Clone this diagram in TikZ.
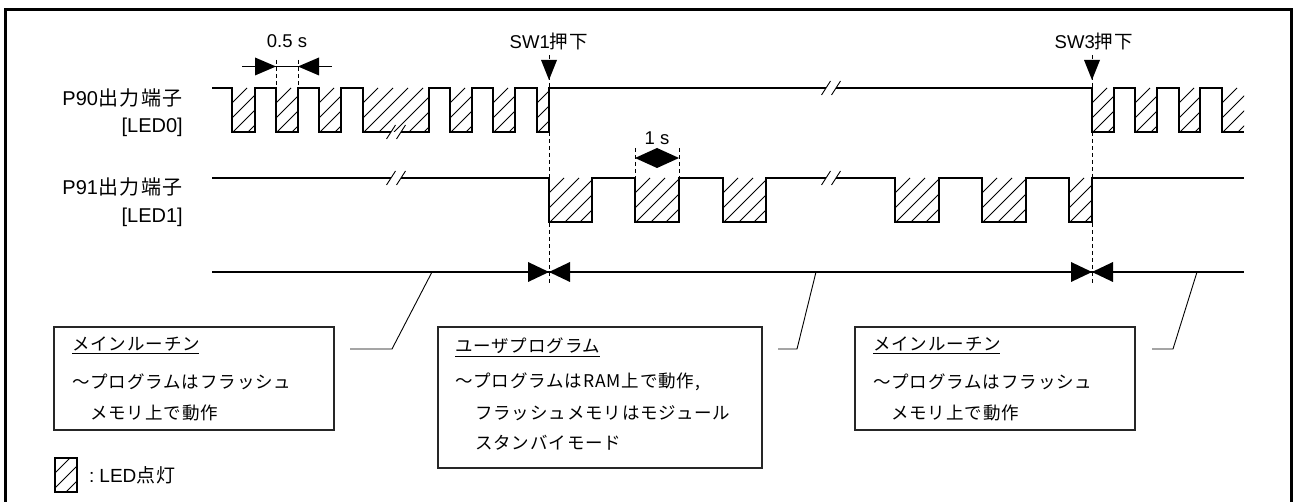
\documentclass[tikz,border=0pt]{standalone}
\usepackage{fontspec}
\setmainfont{Liberation Sans}
\newfontfamily\jp[LetterSpace=5]{Noto Sans CJK JP}
\newfontfamily\jpl[LetterSpace=8]{Noto Sans CJK JP}
\tikzset{
  wave/.style={line width=2.4pt, line join=miter},
  hatchline/.style={line width=0.8pt},
  thinline/.style={line width=0.9pt},
  dashv/.style={line width=0.8pt, dash pattern=on 4pt off 3pt},
  boxframe/.style={line width=1.1pt, draw=black!85},
  lbl/.style={font=\fontsize{20}{22}\selectfont, inner sep=0pt, anchor=east},
  toplbl/.style={font=\fontsize{18.5}{20}\selectfont, inner sep=0pt},
  boxtxt/.style={font=\jp\fontsize{17.5}{19}\selectfont, inner sep=0pt, anchor=west},
  brk/.style={line width=0.9pt},
  tri/.style={fill=black, draw=none}
}
\newcommand\hatchbox[4]{%
  \begin{scope}
    \clip (#1,#3) rectangle (#2,#4);
    \pgfmathsetmacro\hA{#1-(#4-#3)}
    \pgfmathsetmacro\hB{\hA+15}
    \foreach \k in {\hA,\hB,...,#2} \draw[hatchline] (\k,#4) -- ++(#4-#3,#3-#4);
  \end{scope}}
\newcommand\brkmark[2]{% center x, y
  \draw[brk] (#1-9.5,#2+7) -- (#1-0.5,#2-7);
  \draw[brk] (#1+0.5,#2+7) -- (#1+9.5,#2-7);}
\begin{document}
\begin{tikzpicture}[x=1pt,y=-1pt]
\useasboundingbox (0,0) rectangle (1298,502);
% frame
\draw[line width=3pt] (5,510) -- (5,10) -- (1291,10) -- (1291,510);

% signal labels
\node[lbl] (p90) at (183,98) {P90{\jpl 出力端子}};
\node[lbl] (led0) at (183,127) {[LED0]};
\node[lbl] (p91) at (183,187) {P91{\jpl 出力端子}};
\node[lbl] (led1) at (183,217) {[LED1]};

% hatching P90
\foreach \a/\b in {232/255,276/298,319/341,363/429,450/472,493/515,537/549,1092/1114,1135/1157,1179/1200,1222/1244}
  {\hatchbox{\a}{\b}{88}{132}}
% hatching P91
\foreach \a/\b in {549/592,635/679,723/766,895/939,982/1026,1069/1092}
  {\hatchbox{\a}{\b}{178}{222}}

% dashed markers
\draw[dashv] (549,55) -- (549,285);
\draw[dashv] (1092,55) -- (1092,285);
\draw[dashv] (276,60) -- (276,90);
\draw[dashv] (298,60) -- (298,90);
\draw[dashv] (635,148) -- (635,178);
\draw[dashv] (679,148) -- (679,178);

% P90 waveform
\draw[wave] (212,88) -- (232,88) -- (232,132) -- (255,132) -- (255,88) -- (276,88) -- (276,132) -- (298,132) -- (298,88) -- (319,88) -- (319,132) -- (341,132) -- (341,88) -- (363,88) -- (363,132) -- (391,132)
  (401,132) -- (429,132) -- (429,88) -- (450,88) -- (450,132) -- (472,132) -- (472,88) -- (493,88) -- (493,132) -- (515,132) -- (515,88) -- (537,88) -- (537,132) -- (549,132) -- (549,88) -- (826,88)
  (836,88) -- (1092,88) -- (1092,132) -- (1114,132) -- (1114,88) -- (1135,88) -- (1135,132) -- (1157,132) -- (1157,88) -- (1179,88) -- (1179,132) -- (1200,132) -- (1200,88) -- (1222,88) -- (1222,132) -- (1244,132);
\brkmark{396}{132}
\brkmark{831}{88}

% P91 waveform
\draw[wave] (212,178) -- (391,178) (401,178) -- (549,178) -- (549,222) -- (592,222) -- (592,178) -- (635,178) -- (635,222) -- (679,222) -- (679,178) -- (723,178) -- (723,222) -- (766,222) -- (766,178) -- (826,178)
  (836,178) -- (895,178) -- (895,222) -- (939,222) -- (939,178) -- (982,178) -- (982,222) -- (1026,222) -- (1026,178) -- (1069,178) -- (1069,222) -- (1092,222) -- (1092,178) -- (1244,178);
\brkmark{396}{178}
\brkmark{831}{178}

% switch events
\node[toplbl] (sw1) at (549,41) {SW1{\jpl 押下}};
\node[toplbl] (sw3) at (1094,41) {SW3{\jpl 押下}};
\fill[tri] (541,60) -- (557,60) -- (549,80) -- cycle;
\fill[tri] (1084,60) -- (1100,60) -- (1092,80) -- cycle;

% 0.5 s dimension
\node[toplbl] (t05) at (287,41) {0.5 s};
\draw[thinline] (242,66.5) -- (332,66.5);
\fill[tri] (255,57.5) -- (276,66.5) -- (255,75.5) -- cycle;
\fill[tri] (319,57.5) -- (298,66.5) -- (319,75.5) -- cycle;

% 1 s dimension
\node[toplbl] (t1) at (657,138) {1 s};
\fill[tri] (657,148) -- (635,158) -- (657,168) -- cycle;
\fill[tri] (657,148) -- (679,158) -- (657,168) -- cycle;

% program state line
\draw[wave] (212,272) -- (1244,272);
\fill[tri] (528,262) -- (549,272) -- (528,282) -- cycle;
\fill[tri] (570,262) -- (549,272) -- (570,282) -- cycle;
\fill[tri] (1071,262) -- (1092,272) -- (1071,282) -- cycle;
\fill[tri] (1113,262) -- (1092,272) -- (1113,282) -- cycle;

% boxes
\draw[boxframe] (54,327) rectangle (334,430);
\draw[boxframe] (438,327) rectangle (762,468);
\draw[boxframe] (855,327) rectangle (1135,430);

\coordinate (l1a) at (432,272); \coordinate (l1b) at (392,349); \coordinate (l1c) at (350,349);
\coordinate (l2a) at (816,272); \coordinate (l2b) at (797,349); \coordinate (l2c) at (778,349);
\coordinate (l3a) at (1197,272); \coordinate (l3b) at (1173,349); \coordinate (l3c) at (1152,349);
\draw[thinline] (l1a) -- (l1b) -- (l1c);
\draw[thinline] (l2a) -- (l2b) -- (l2c);
\draw[thinline] (l3a) -- (l3b) -- (l3c);

% box 1
\node[boxtxt] (b1t) at (72,344) {メインルーチン};
\draw[thinline] ([yshift=-2pt]b1t.south west) -- ([yshift=-2pt,xshift=-1pt]b1t.south east);
\node[boxtxt] (b1a) at (72,382) {〜プログラムはフラッシュ};
\node[boxtxt] (b1b) at (90,413) {メモリ上で動作};
% box 2
\node[boxtxt] (b2t) at (455,346) {ユーザプログラム};
\draw[thinline] ([yshift=-2pt]b2t.south west) -- ([yshift=-2pt,xshift=-1pt]b2t.south east);
\node[boxtxt] (b2a) at (455,382) {〜プログラムはRAM上で動作,};
\node[boxtxt] (b2b) at (475,413) {フラッシュメモリはモジュール};
\node[boxtxt] (b2c) at (475,443) {スタンバイモード};
% box 3
\node[boxtxt] (b3t) at (873,344) {メインルーチン};
\draw[thinline] ([yshift=-2pt]b3t.south west) -- ([yshift=-2pt,xshift=-1pt]b3t.south east);
\node[boxtxt] (b3a) at (873,382) {〜プログラムはフラッシュ};
\node[boxtxt] (b3b) at (891,413) {メモリ上で動作};

% legend
\hatchbox{55}{77}{458}{492}
\draw[line width=1.4pt] (55,458) rectangle (77,492);
\node[font=\fontsize{19}{21}\selectfont, inner sep=0pt, anchor=west] (leg) at (89,475) {:\hspace{5pt}LED{\jpl 点灯}};
\end{tikzpicture}
\end{document}
